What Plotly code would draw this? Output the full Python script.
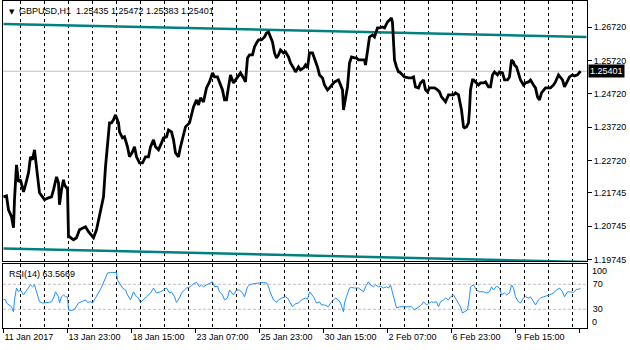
import plotly.graph_objects as go

# ---------------- data ----------------
symbol_title = "GBPUSD,H1  1.25435 1.25472 1.25383 1.25401"
last_price = 1.25401
rsi_title = "RSI(14) 63.5669"

price_bars = [0, 3, 5, 8, 10, 11, 13, 15, 17, 20, 22, 25, 27, 29, 31, 33, 35, 36, 39, 41, 45, 48, 50, 53, 55, 56, 58,
              60, 61, 63, 64, 65, 66, 70, 73, 76, 80, 82, 85, 88, 90, 93, 96, 98, 100, 102, 104, 106, 108, 110, 112,
              115, 116, 119, 121, 124, 126, 129, 131, 133, 136, 139, 142, 145, 147, 150, 152, 155, 158, 160, 163, 165,
              168, 170, 172, 175, 177, 180, 182, 186, 188, 190, 193, 195, 197, 200, 203, 206, 209, 211, 214, 216, 219,
              221, 223, 225, 227, 230, 232, 235, 237, 240, 242, 244, 246, 249, 251, 253, 255, 258, 261, 263, 265, 267,
              269, 271, 273, 275, 277, 280, 282, 285, 287, 290, 292, 295, 297, 300, 302, 304, 306, 309, 311, 314, 316,
              319, 321, 324, 326, 329, 331, 335, 337, 339, 340, 342, 344, 346, 348, 351, 353, 355, 358, 361, 362, 364,
              366, 369, 371, 374, 376, 379, 381, 384, 386, 388, 389, 390, 391, 393, 395, 396, 399, 401, 405, 408, 410,
              412, 415, 417, 420, 422, 424, 426, 429, 431, 434, 436, 438, 440, 442, 445, 447, 450, 452, 455, 456, 458,
              460, 461, 463, 465, 466, 467, 469, 470, 472, 475, 477, 480, 482, 485, 487, 489, 491, 494, 496, 499, 501,
              504, 506, 508, 510, 511, 513, 515, 517, 520, 522, 525, 527, 530, 532, 534, 536, 538, 540, 542, 545, 547,
              550, 552, 555, 557, 559, 561, 563, 565, 566, 569, 571, 574, 576, 577]
price_close = [1.2163, 1.2166, 1.2124, 1.2103, 1.2070, 1.2154, 1.2259, 1.2208, 1.2214, 1.2178, 1.2199, 1.2235,
               1.2283, 1.2274, 1.2304, 1.2253, 1.2214, 1.2175, 1.2163, 1.2154, 1.2160, 1.2163, 1.2184, 1.2223, 1.2205,
               1.2139, 1.2184, 1.2214, 1.2199, 1.2190, 1.2190, 1.2043, 1.2043, 1.2034, 1.2040, 1.2064, 1.2070, 1.2073,
               1.2058, 1.2049, 1.2040, 1.2064, 1.2103, 1.2133, 1.2163, 1.2253, 1.2334, 1.2385, 1.2385, 1.2394, 1.2409,
               1.2385, 1.2358, 1.2340, 1.2343, 1.2313, 1.2283, 1.2298, 1.2313, 1.2283, 1.2265, 1.2265, 1.2283, 1.2283,
               1.2313, 1.2334, 1.2313, 1.2304, 1.2325, 1.2340, 1.2343, 1.2364, 1.2358, 1.2334, 1.2295, 1.2283, 1.2313,
               1.2349, 1.2373, 1.2385, 1.2409, 1.2433, 1.2454, 1.2439, 1.2460, 1.2448, 1.2490, 1.2508, 1.2535, 1.2523,
               1.2523, 1.2505, 1.2484, 1.2454, 1.2454, 1.2493, 1.2529, 1.2505, 1.2514, 1.2529, 1.2535, 1.2520, 1.2508,
               1.2580, 1.2589, 1.2589, 1.2613, 1.2625, 1.2634, 1.2634, 1.2643, 1.2655, 1.2658, 1.2643, 1.2628, 1.2595,
               1.2580, 1.2589, 1.2604, 1.2595, 1.2598, 1.2583, 1.2565, 1.2550, 1.2538, 1.2553, 1.2544, 1.2550, 1.2559,
               1.2550, 1.2595, 1.2595, 1.2580, 1.2553, 1.2529, 1.2520, 1.2499, 1.2484, 1.2490, 1.2499, 1.2508, 1.2514,
               1.2499, 1.2484, 1.2424, 1.2454, 1.2493, 1.2565, 1.2583, 1.2580, 1.2580, 1.2574, 1.2574, 1.2574, 1.2559,
               1.2604, 1.2643, 1.2649, 1.2643, 1.2670, 1.2670, 1.2673, 1.2670, 1.2688, 1.2694, 1.2700, 1.2685, 1.2643,
               1.2574, 1.2553, 1.2538, 1.2538, 1.2529, 1.2523, 1.2520, 1.2520, 1.2523, 1.2493, 1.2490, 1.2505, 1.2514,
               1.2484, 1.2478, 1.2490, 1.2490, 1.2490, 1.2484, 1.2478, 1.2463, 1.2454, 1.2448, 1.2469, 1.2469, 1.2469,
               1.2475, 1.2469, 1.2454, 1.2424, 1.2373, 1.2370, 1.2373, 1.2385, 1.2424, 1.2484, 1.2514, 1.2514, 1.2508,
               1.2499, 1.2505, 1.2505, 1.2508, 1.2493, 1.2493, 1.2529, 1.2538, 1.2529, 1.2538, 1.2535, 1.2514, 1.2514,
               1.2523, 1.2574, 1.2568, 1.2559, 1.2553, 1.2535, 1.2514, 1.2499, 1.2505, 1.2508, 1.2514, 1.2499, 1.2490,
               1.2463, 1.2454, 1.2475, 1.2484, 1.2490, 1.2490, 1.2490, 1.2499, 1.2508, 1.2529, 1.2523, 1.2514, 1.2493,
               1.2505, 1.2514, 1.2523, 1.2529, 1.2526, 1.2529, 1.2538, 1.25401]

rsi_bars = [0, 2, 3, 6, 8, 10, 11, 13, 15, 17, 20, 22, 25, 27, 29, 31, 33, 35, 36, 39, 41, 45, 48, 50, 52, 55, 56,
            58, 60, 62, 64, 65, 68, 71, 75, 78, 82, 84, 87, 89, 92, 94, 97, 99, 102, 104, 107, 110, 113, 114, 117,
            119, 122, 124, 127, 130, 133, 135, 137, 140, 143, 147, 150, 153, 157, 160, 163, 166, 168, 171, 173, 176,
            178, 181, 183, 187, 190, 193, 196, 198, 200, 203, 207, 209, 211, 214, 216, 219, 221, 224, 226, 228, 230,
            233, 236, 239, 241, 244, 246, 250, 253, 256, 260, 263, 265, 267, 270, 273, 275, 278, 282, 284, 287, 289,
            292, 295, 298, 302, 304, 306, 310, 313, 316, 318, 321, 325, 327, 330, 332, 335, 337, 340, 341, 343, 346,
            348, 351, 355, 358, 360, 362, 365, 367, 370, 372, 375, 377, 380, 383, 385, 387, 389, 391, 393, 396, 398,
            401, 405, 408, 411, 415, 418, 420, 423, 426, 428, 430, 433, 435, 437, 440, 442, 445, 447, 450, 452, 455,
            457, 459, 461, 464, 466, 467, 470, 473, 476, 480, 483, 486, 488, 490, 493, 496, 498, 501, 503, 506, 508,
            510, 512, 515, 517, 520, 522, 525, 527, 530, 532, 535, 537, 540, 543, 546, 550, 553, 556, 559, 561, 564,
            566, 570, 573, 575, 577]
rsi_vals = [46, 45, 40, 37, 34, 26, 45, 64, 58, 61, 53, 58, 64, 69, 66, 69, 58, 48, 42, 40, 40, 41, 42, 48, 58, 50,
            40, 50, 53, 50, 50, 29, 28, 30, 40, 42, 45, 41, 42, 40, 48, 53, 62, 69, 80, 88, 89, 89, 89, 77, 69, 64, 61,
            53, 45, 58, 50, 48, 41, 45, 50, 56, 64, 56, 58, 61, 64, 56, 58, 50, 41, 48, 56, 61, 64, 66, 71, 73, 66, 69,
            66, 69, 72, 74, 66, 67, 58, 53, 45, 48, 61, 56, 53, 61, 61, 56, 50, 66, 69, 71, 72, 72, 73, 72, 66, 56, 45,
            41, 45, 48, 50, 48, 40, 34, 39, 40, 45, 48, 46, 58, 50, 40, 42, 37, 37, 34, 40, 45, 48, 45, 40, 26, 40, 50,
            64, 65, 64, 64, 61, 58, 66, 74, 69, 66, 69, 66, 67, 64, 66, 64, 69, 56, 40, 32, 34, 34, 33, 34, 34, 29, 34,
            37, 42, 37, 40, 42, 41, 42, 34, 42, 45, 48, 45, 50, 53, 48, 40, 34, 24, 26, 29, 50, 66, 69, 61, 58, 58, 56,
            58, 66, 61, 67, 64, 53, 56, 53, 56, 69, 64, 50, 42, 40, 48, 50, 48, 50, 42, 37, 45, 48, 50, 51, 53, 56, 61,
            64, 58, 50, 58, 58, 57, 62, 62, 63.57]

band_bars = [0, 583]
upper_band = [1.2682, 1.2643]
lower_band = [1.2008, 1.1967]

price_ticks = [1.26720, 1.25720, 1.24720, 1.23720, 1.22720, 1.21745, 1.20745, 1.19745]
price_tick_text = ["1.26720", "1.25720", "1.24720", "1.23720", "1.22720", "1.21745", "1.20745", "1.19745"]
rsi_levels = [70, 30]
rsi_level_text = ["70", "30"]
rsi_bounds = [100, 0]
rsi_bound_text = ["100", "0"]

time_tick_bars = [0, 64, 128, 192, 256, 320, 384, 448, 512, 576]
time_tick_text = ["11 Jan 2017", "13 Jan 23:00", "18 Jan 15:00", "23 Jan 07:00", "25 Jan 23:00",
                  "30 Jan 15:00", "2 Feb 07:00", "6 Feb 23:00", "9 Feb 15:00", "14 Feb 07:00"]
first_day_bar = 17
bars_per_day = 24

# ---------------- styles ----------------
FONT = "Liberation Sans"
FS = 9
TEAL = "#008080"
GRAY = "#c0c0c0"

fig = go.Figure()

fig.add_trace(go.Scatter(x=band_bars, y=upper_band, mode="lines", line=dict(color=TEAL, width=2.5),
                         xaxis="x", yaxis="y", hoverinfo="skip", showlegend=False))
fig.add_trace(go.Scatter(x=band_bars, y=lower_band, mode="lines", line=dict(color=TEAL, width=2.5),
                         xaxis="x", yaxis="y", hoverinfo="skip", showlegend=False))
fig.add_trace(go.Scatter(x=price_bars, y=price_close, mode="lines", line=dict(color="black", width=2.8),
                         xaxis="x", yaxis="y", showlegend=False))
fig.add_trace(go.Scatter(x=rsi_bars, y=rsi_vals, mode="lines", line=dict(color="#1e90ff", width=1),
                         xaxis="x2", yaxis="y2", showlegend=False))

shapes = [dict(type="line", xref="paper", x0=0, x1=1, yref="y", y0=last_price, y1=last_price,
               line=dict(color=GRAY, width=1), layer="below")]
for lv in rsi_levels:
    shapes.append(dict(type="line", xref="paper", x0=0, x1=1, yref="y2", y0=lv, y1=lv,
                       line=dict(color=GRAY, width=1, dash="3px,2px"), layer="below"))

minor_grid = dict(showgrid=True, gridcolor="black", griddash="3px,3px", gridwidth=1,
                  tick0=first_day_bar, dtick=bars_per_day, ticks="")

xcommon = dict(range=[-0.5, 583.5], showline=True, linecolor="black", linewidth=1, mirror=True,
               showgrid=False, zeroline=False, tickmode="array", tickvals=time_tick_bars,
               ticktext=time_tick_text, minor=minor_grid, fixedrange=True)

annotations = [
    dict(xref="paper", yref="paper", x=0, y=1, xshift=4, yshift=-5, text="▼", showarrow=False,
         xanchor="left", yanchor="top", font=dict(family="DejaVu Sans", size=7, color="black")),
    dict(xref="paper", yref="paper", x=0, y=1, xshift=14, yshift=-3, text=symbol_title,
         showarrow=False, xanchor="left", yanchor="top", font=dict(family=FONT, size=FS, color="black")),
    dict(xref="paper", yref="paper", x=0, y=0.1957, xshift=4, yshift=-3, text=rsi_title,
         showarrow=False, xanchor="left", yanchor="top", font=dict(family=FONT, size=FS, color="black")),
    dict(xref="paper", yref="y", x=1, y=last_price, xshift=1, text=f"{last_price:.5f}",
         showarrow=False, xanchor="left", yanchor="middle", bgcolor="black", borderpad=1,
         font=dict(family=FONT, size=FS, color="white")),
]
# bound labels of the RSI scale sit just inside the pane, as in the terminal
for val, txt, shift in zip(rsi_bounds, rsi_bound_text, [-5, 6]):
    annotations.append(dict(xref="paper", yref="y2", x=1, y=val, xshift=3, yshift=shift, text=txt,
                            showarrow=False, xanchor="left", yanchor="middle",
                            font=dict(family=FONT, size=FS, color="black")))

fig.update_layout(
    width=630, height=350,
    margin=dict(l=3, r=43, t=1, b=22),
    paper_bgcolor="white", plot_bgcolor="white",
    font=dict(family=FONT, size=FS, color="black"),
    showlegend=False,
    xaxis=dict(**xcommon, anchor="y", showticklabels=False, ticks=""),
    xaxis2=dict(**xcommon, anchor="y2", matches="x", showticklabels=True, ticks="outside",
                ticklen=4, tickcolor="black", ticklabelposition="outside right",
                tickfont=dict(family=FONT, size=FS, color="black")),
    yaxis=dict(domain=[0.2049, 1], range=[1.19702, 1.27510], side="right", tickmode="array",
               tickvals=price_ticks, ticktext=price_tick_text, ticks="outside", ticklen=4,
               tickcolor="black", showgrid=False, zeroline=False, showline=True, linecolor="black",
               mirror=True, anchor="x", tickfont=dict(family=FONT, size=FS, color="black")),
    yaxis2=dict(domain=[0, 0.1957], range=[0, 102.5], side="right", tickmode="array",
                tickvals=rsi_levels, ticktext=rsi_level_text, ticks="", ticklabelstandoff=3,
                showgrid=False, zeroline=False, showline=True, linecolor="black", mirror=True,
                anchor="x2", tickfont=dict(family=FONT, size=FS, color="black")),
    shapes=shapes,
    annotations=annotations,
)

fig.write_html("out.html")
